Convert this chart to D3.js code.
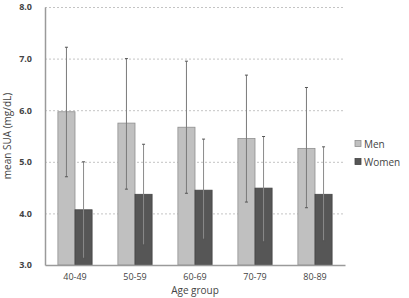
<!DOCTYPE html>
<html>
<head>
<meta charset="utf-8">
<script src="https://cdn.jsdelivr.net/npm/d3@7"></script>
<style>
body { margin: 0; background: white; }
text { font-family: "Open Sans", "Liberation Sans", sans-serif; }
</style>
</head>
<body>
<div class="display"></div>
<script>
const ageGroups = ['40-49', '50-59', '60-69', '70-79', '80-89'];
const seriesNames = ['Men', 'Women'];
const menMean = [5.97, 5.75, 5.67, 5.45, 5.26];
const menHigh = [7.22, 7.0, 6.95, 6.68, 6.44];
const menLow = [4.71, 4.47, 4.39, 4.22, 4.11];
const womenMean = [4.07, 4.37, 4.45, 4.49, 4.37];
const womenHigh = [5.0, 5.34, 5.44, 5.49, 5.29];
const womenLow = [3.13, 3.39, 3.50, 3.45, 3.47];
const yTicks = [3, 4, 5, 6, 7, 8];

const width = 409;
const height = 298;
const plotLeft = 45, plotRight = 345, plotTop = 7, plotBottom = 265;

const svg = d3.select('.display')
    .append('svg')
    .attr('width', width)
    .attr('height', height);

const xScale = d3.scaleBand()
    .domain(ageGroups)
    .range([plotLeft, plotRight])
    .paddingInner(0.43)
    .paddingOuter(0.215);

const subScale = d3.scaleBand()
    .domain(seriesNames)
    .range([0, xScale.bandwidth()]);

const yScale = d3.scaleLinear()
    .domain([3, 8])
    .range([plotBottom, plotTop]);

// gridlines
svg.append('g')
    .selectAll('line')
    .data(yTicks.filter(d => d > 3))
    .enter()
    .append('line')
    .attr('x1', plotLeft)
    .attr('x2', plotRight)
    .attr('y1', d => yScale(d) + 0.5)
    .attr('y2', d => yScale(d) + 0.5)
    .attr('stroke', '#c4c4c4')
    .attr('stroke-dasharray', '2,2');

const colors = { Men: '#c0c0c0', Women: '#565656' };
const strokes = { Men: '#8f8f8f', Women: '#444' };

const rows = ageGroups.flatMap((g, i) => [
    { group: g, key: 'Men', mean: menMean[i], hi: menHigh[i], lo: menLow[i] },
    { group: g, key: 'Women', mean: womenMean[i], hi: womenHigh[i], lo: womenLow[i] }
]);

svg.append('g')
    .selectAll('rect')
    .data(rows)
    .enter()
    .append('rect')
    .attr('x', d => xScale(d.group) + subScale(d.key))
    .attr('y', d => yScale(d.mean))
    .attr('width', subScale.bandwidth())
    .attr('height', d => yScale(3) - yScale(d.mean))
    .attr('fill', d => colors[d.key])
    .attr('stroke', d => strokes[d.key])
    .attr('stroke-width', 0.8);

// error bars
const err = svg.append('g');
const cx = d => xScale(d.group) + subScale(d.key) + subScale.bandwidth() / 2;
err.selectAll('.err')
    .data(rows)
    .enter()
    .append('line')
    .attr('x1', cx)
    .attr('x2', cx)
    .attr('y1', d => yScale(d.hi))
    .attr('y2', d => yScale(d.lo))
    .attr('stroke', d => d.key === 'Men' ? '#7a7a7a' : '#8a8a8a')
    .attr('stroke-width', 1);
['hi', 'lo'].forEach(k => {
    err.selectAll('.cap-' + k)
        .data(rows)
        .enter()
        .append('line')
        .attr('x1', d => cx(d) - 1.5)
        .attr('x2', d => cx(d) + 1.5)
        .attr('y1', d => yScale(d[k]))
        .attr('y2', d => yScale(d[k]))
        .attr('stroke', '#555')
        .attr('stroke-width', 1);
});

// axes
const yAxis = d3.axisLeft(yScale)
    .tickValues(yTicks)
    .tickFormat(d3.format('.1f'))
    .tickSize(0)
    .tickPadding(13);
const gy = svg.append('g')
    .attr('transform', `translate(${plotLeft}, 0)`)
    .call(yAxis);
gy.select('.domain').attr('stroke', '#9a9a9a').attr('stroke-width', 1.5);
gy.selectAll('text').attr('font-size', 9).attr('fill', '#444').attr('font-weight', 'bold');

const xAxis = d3.axisBottom(xScale).tickSize(0).tickPadding(9);
const gx = svg.append('g')
    .attr('transform', `translate(0, ${plotBottom})`)
    .call(xAxis);
gx.select('.domain').attr('stroke', '#9a9a9a').attr('stroke-width', 1.5);
gx.selectAll('text').attr('font-size', 9).attr('fill', '#444');

svg.append('text')
    .attr('x', (plotLeft + plotRight) / 2)
    .attr('y', 294)
    .attr('text-anchor', 'middle')
    .attr('font-size', 10)
    .attr('fill', '#444')
    .text('Age group');

svg.append('text')
    .attr('transform', `translate(11, ${(plotTop + plotBottom) / 2}) rotate(-90)`)
    .attr('text-anchor', 'middle')
    .attr('font-size', 10)
    .attr('fill', '#444')
    .text('mean SUA (mg/dL)');

// legend
const legend = svg.append('g')
    .selectAll('g')
    .data(seriesNames)
    .enter()
    .append('g')
    .attr('transform', (d, i) => `translate(355, ${144 + i * 18})`);
legend.append('rect')
    .attr('x', 0)
    .attr('y', -3.5)
    .attr('width', 6)
    .attr('height', 6)
    .attr('fill', d => colors[d])
    .attr('stroke', d => strokes[d])
    .attr('stroke-width', 0.8);
legend.append('text')
    .attr('x', 9)
    .attr('y', 0)
    .attr('dy', '0.35em')
    .attr('font-size', 10)
    .attr('fill', '#444')
    .text(d => d);
</script>
</body>
</html>
